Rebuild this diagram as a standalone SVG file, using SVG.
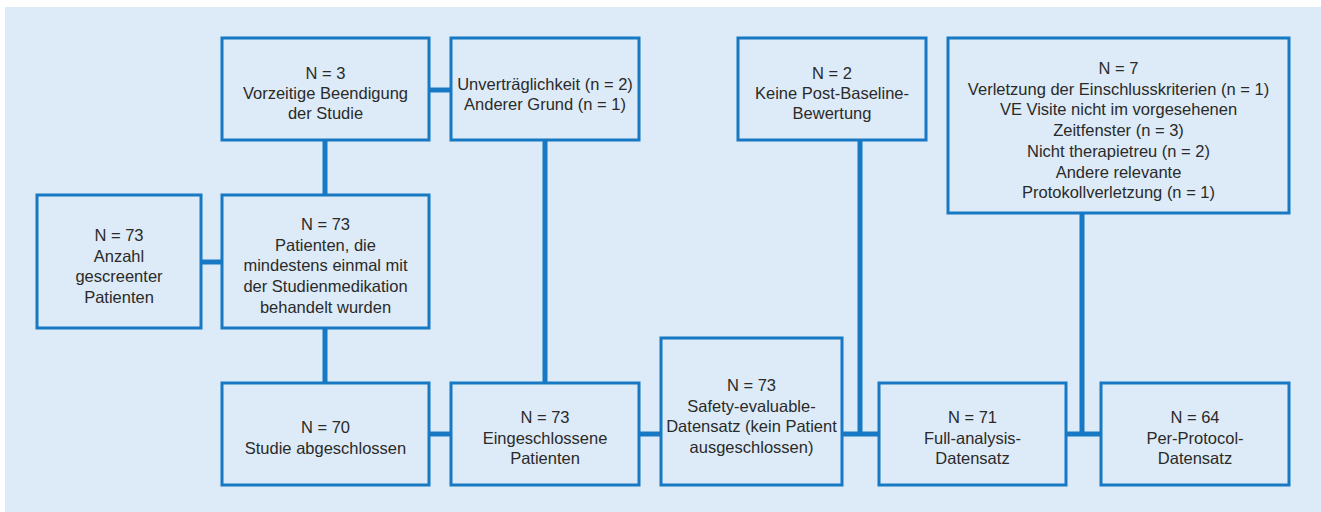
<svg xmlns="http://www.w3.org/2000/svg" width="1321" height="512" viewBox="0 0 1321 512">
<style>
.bg{fill:#ddeaf7}
.box{fill:#ddeaf7;stroke:#1779c4;stroke-width:3}
.con{stroke:#1779c4;stroke-width:5;fill:none;stroke-linecap:butt}
text{font-family:"Liberation Sans",Arial,sans-serif;font-size:16.5px;fill:#2a2a2a;text-anchor:middle}
</style>
<rect class="bg" x="5" y="7" width="1316" height="505"/>
<g id="connectors">
<line class="con" x1="429" y1="90" x2="451" y2="90"/>
<line class="con" x1="325" y1="140" x2="325" y2="195"/>
<line class="con" x1="201" y1="262" x2="222" y2="262"/>
<line class="con" x1="325" y1="328" x2="325" y2="383"/>
<line class="con" x1="545" y1="140" x2="545" y2="383"/>
<line class="con" x1="429" y1="434" x2="451" y2="434"/>
<line class="con" x1="639" y1="434" x2="661" y2="434"/>
<line class="con" x1="842" y1="434" x2="879" y2="434"/>
<line class="con" x1="860" y1="140" x2="860" y2="436"/>
<line class="con" x1="1066" y1="434" x2="1101" y2="434"/>
<line class="con" x1="1082" y1="213" x2="1082" y2="436"/>
</g>
<g id="n_abbruch">
<rect class="box" x="222" y="38" width="207" height="102"/>
<text x="325.5" y="79">N = 3</text>
<text x="325.5" y="99">Vorzeitige Beendigung</text>
<text x="325.5" y="119">der Studie</text>
</g>
<g id="n_gruende">
<rect class="box" x="451" y="38" width="188" height="102"/>
<text x="545" y="90">Unverträglichkeit (n = 2)</text>
<text x="545" y="110">Anderer Grund (n = 1)</text>
</g>
<g id="n_keinepost">
<rect class="box" x="738" y="38" width="188" height="102"/>
<text x="832" y="79">N = 2</text>
<text x="832" y="99">Keine Post-Baseline-</text>
<text x="832" y="119">Bewertung</text>
</g>
<g id="n_pp_ausschluss">
<rect class="box" x="948" y="38" width="341" height="175"/>
<text x="1118.5" y="74">N = 7</text>
<text x="1118.5" y="94.7">Verletzung der Einschlusskriterien (n = 1)</text>
<text x="1118.5" y="115.4">VE Visite nicht im vorgesehenen</text>
<text x="1118.5" y="136">Zeitfenster (n = 3)</text>
<text x="1118.5" y="156.8">Nicht therapietreu (n = 2)</text>
<text x="1118.5" y="177.5">Andere relevante</text>
<text x="1118.5" y="198">Protokollverletzung (n = 1)</text>
</g>
<g id="n_screening">
<rect class="box" x="37" y="195" width="164" height="133"/>
<text x="119" y="241">N = 73</text>
<text x="119" y="261.7">Anzahl</text>
<text x="119" y="282.4">gescreenter</text>
<text x="119" y="303">Patienten</text>
</g>
<g id="n_behandelt">
<rect class="box" x="222" y="195" width="207" height="133"/>
<text x="325.5" y="230">N = 73</text>
<text x="325.5" y="250.6">Patienten, die</text>
<text x="325.5" y="271.3">mindestens einmal mit</text>
<text x="325.5" y="292">der Studienmedikation</text>
<text x="325.5" y="312.6">behandelt wurden</text>
</g>
<g id="n_abgeschlossen">
<rect class="box" x="222" y="383" width="207" height="102"/>
<text x="325.5" y="433">N = 70</text>
<text x="325.5" y="454">Studie abgeschlossen</text>
</g>
<g id="n_eingeschlossen">
<rect class="box" x="451" y="383" width="188" height="102"/>
<text x="545" y="423">N = 73</text>
<text x="545" y="443.5">Eingeschlossene</text>
<text x="545" y="464">Patienten</text>
</g>
<g id="n_safety">
<rect class="box" x="661" y="338" width="181" height="147"/>
<text x="751.5" y="391">N = 73</text>
<text x="751.5" y="411.7">Safety-evaluable-</text>
<text x="751.5" y="432.4">Datensatz (kein Patient</text>
<text x="751.5" y="453">ausgeschlossen)</text>
</g>
<g id="n_full">
<rect class="box" x="879" y="383" width="187" height="102"/>
<text x="972.5" y="423">N = 71</text>
<text x="972.5" y="443.5">Full-analysis-</text>
<text x="972.5" y="464">Datensatz</text>
</g>
<g id="n_pp">
<rect class="box" x="1101" y="383" width="188" height="102"/>
<text x="1195" y="423">N = 64</text>
<text x="1195" y="443.5">Per-Protocol-</text>
<text x="1195" y="464">Datensatz</text>
</g>
</svg>
